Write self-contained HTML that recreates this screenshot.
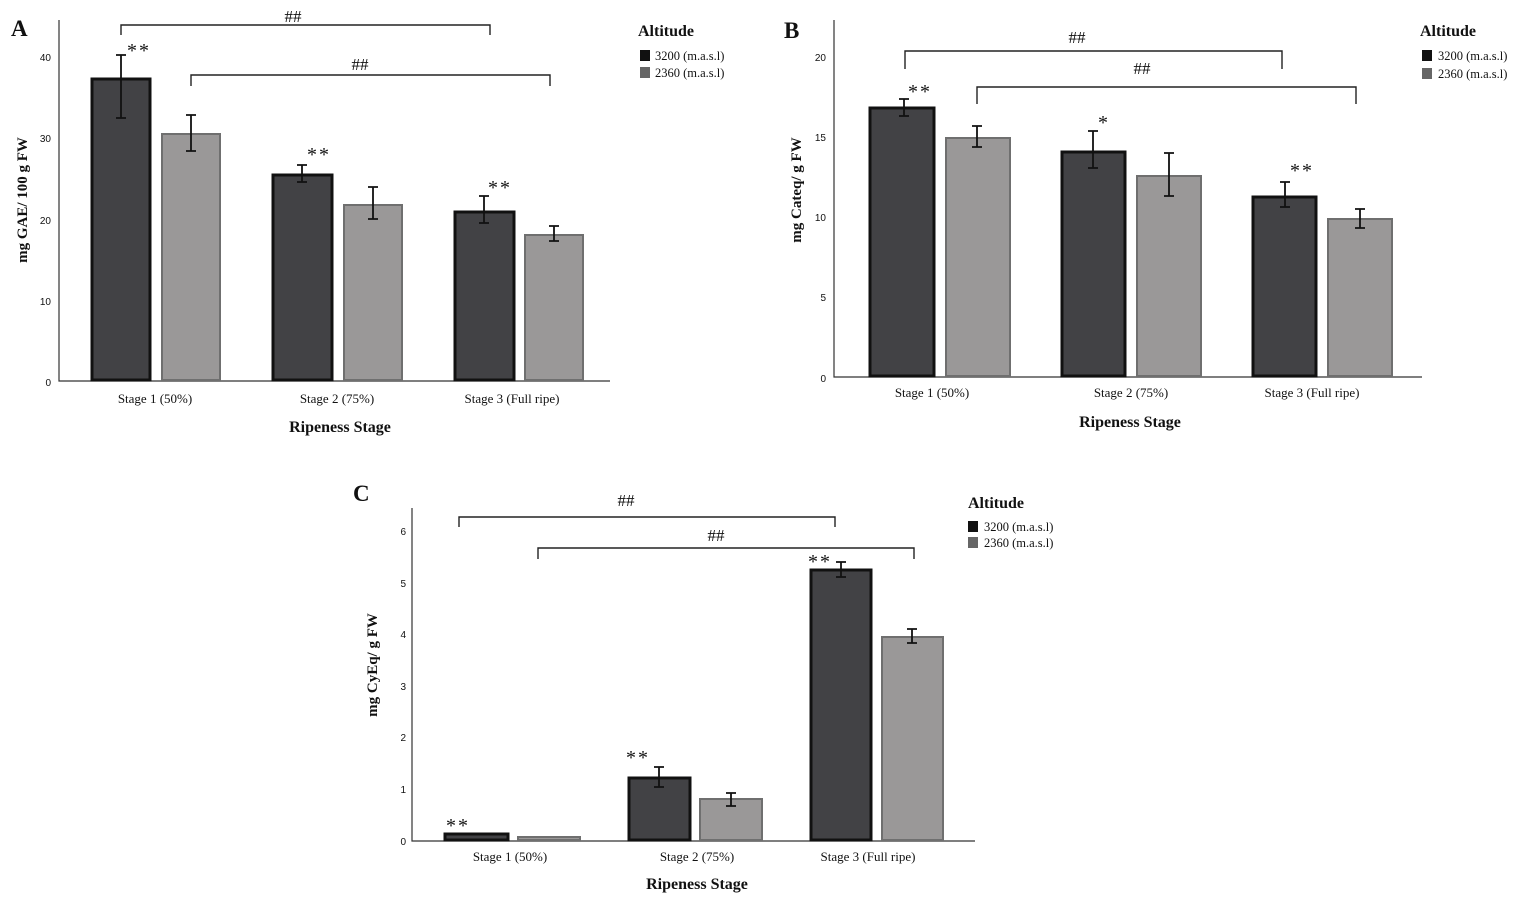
<!DOCTYPE html>
<html><head><meta charset="utf-8"><style>
html,body{margin:0;padding:0;background:#fff;}
svg{display:block;}
text{font-family:"Liberation Serif",serif;fill:#111;}
.t{font-family:"Liberation Sans",sans-serif;font-size:10px;}
.xl{font-size:13px;}
.ti{font-size:16px;font-weight:bold;}
.yt{font-size:15px;font-weight:bold;}
.pl{font-size:23px;font-weight:bold;}
.lg{font-size:12.5px;}
.lh{font-size:16px;font-weight:bold;}
.st{font-size:17px;}
.ss{font-size:20px;letter-spacing:2px;}
.dk{fill:#424245;stroke:#111;stroke-width:3;}
.lt{fill:#9a9898;stroke:#6f6f6f;stroke-width:2;}
.ax{stroke:#333;stroke-width:1.2;fill:none;}
.eb{stroke:#111;stroke-width:1.8;fill:none;}
.br{stroke:#222;stroke-width:1.4;fill:none;}
</style></head><body>
<svg width="1535" height="902" viewBox="0 0 1535 902" xmlns="http://www.w3.org/2000/svg">
<!-- Panel A -->
<text class="pl" x="11" y="36">A</text>
<path class="ax" d="M59 20 V381 H610"/>
<text class="t" x="51" y="61" text-anchor="end">40</text>
<text class="t" x="51" y="142" text-anchor="end">30</text>
<text class="t" x="51" y="224" text-anchor="end">20</text>
<text class="t" x="51" y="305" text-anchor="end">10</text>
<text class="t" x="51" y="386" text-anchor="end">0</text>
<rect class="dk" x="92" y="79" width="58" height="301"/>
<rect class="lt" x="162" y="134" width="58" height="246"/>
<rect class="dk" x="273" y="175" width="59" height="205"/>
<rect class="lt" x="344" y="205" width="58" height="175"/>
<rect class="dk" x="455" y="212" width="59" height="168"/>
<rect class="lt" x="525" y="235" width="58" height="145"/>
<path class="eb" d="M121 55V118M116 55h10M116 118h10 M191 115V151M186 115h10M186 151h10 M302 165V182M297 165h10M297 182h10 M373 187V219M368 187h10M368 219h10 M484 196V223M479 196h10M479 223h10 M554 226V241M549 226h10M549 241h10"/>
<path class="br" d="M121 35V25H490V35 M191 86V75H550V86"/>
<text class="st" x="293" y="22" text-anchor="middle">##</text>
<text class="st" x="360" y="70" text-anchor="middle">##</text>
<text class="ss" x="139" y="57" text-anchor="middle">**</text>
<text class="ss" x="319" y="161" text-anchor="middle">**</text>
<text class="ss" x="500" y="194" text-anchor="middle">**</text>
<text class="xl" x="155" y="403" text-anchor="middle">Stage 1 (50%)</text>
<text class="xl" x="337" y="403" text-anchor="middle">Stage 2 (75%)</text>
<text class="xl" x="512" y="403" text-anchor="middle">Stage 3 (Full ripe)</text>
<text class="ti" x="340" y="432" text-anchor="middle">Ripeness Stage</text>
<text class="yt" transform="translate(27,200) rotate(-90)" text-anchor="middle">mg GAE/ 100 g FW</text>
<text class="lh" x="638" y="36">Altitude</text>
<rect x="640" y="50" width="10" height="11" fill="#111"/>
<rect x="640" y="67" width="10" height="11" fill="#666"/>
<text class="lg" x="655" y="60">3200 (m.a.s.l)</text>
<text class="lg" x="655" y="77">2360 (m.a.s.l)</text>

<!-- Panel B -->
<text class="pl" x="784" y="38">B</text>
<path class="ax" d="M834 20 V377 H1422"/>
<text class="t" x="826" y="61" text-anchor="end">20</text>
<text class="t" x="826" y="141" text-anchor="end">15</text>
<text class="t" x="826" y="221" text-anchor="end">10</text>
<text class="t" x="826" y="301" text-anchor="end">5</text>
<text class="t" x="826" y="382" text-anchor="end">0</text>
<rect class="dk" x="870" y="108" width="64" height="268"/>
<rect class="lt" x="946" y="138" width="64" height="238"/>
<rect class="dk" x="1062" y="152" width="63" height="224"/>
<rect class="lt" x="1137" y="176" width="64" height="200"/>
<rect class="dk" x="1253" y="197" width="63" height="179"/>
<rect class="lt" x="1328" y="219" width="64" height="157"/>
<path class="eb" d="M904 99V116M899 99h10M899 116h10 M977 126V147M972 126h10M972 147h10 M1093 131V168M1088 131h10M1088 168h10 M1169 153V196M1164 153h10M1164 196h10 M1285 182V207M1280 182h10M1280 207h10 M1360 209V228M1355 209h10M1355 228h10"/>
<path class="br" d="M905 69V51H1282V69 M977 104V87H1356V104"/>
<text class="st" x="1077" y="43" text-anchor="middle">##</text>
<text class="st" x="1142" y="74" text-anchor="middle">##</text>
<text class="ss" x="920" y="98" text-anchor="middle">**</text>
<text class="ss" x="1104" y="129" text-anchor="middle">*</text>
<text class="ss" x="1302" y="177" text-anchor="middle">**</text>
<text class="xl" x="932" y="397" text-anchor="middle">Stage 1 (50%)</text>
<text class="xl" x="1131" y="397" text-anchor="middle">Stage 2 (75%)</text>
<text class="xl" x="1312" y="397" text-anchor="middle">Stage 3 (Full ripe)</text>
<text class="ti" x="1130" y="427" text-anchor="middle">Ripeness Stage</text>
<text class="yt" transform="translate(801,190) rotate(-90)" text-anchor="middle">mg Cateq/ g FW</text>
<text class="lh" x="1420" y="36">Altitude</text>
<rect x="1422" y="50" width="10" height="11" fill="#111"/>
<rect x="1422" y="68" width="10" height="11" fill="#666"/>
<text class="lg" x="1438" y="60">3200 (m.a.s.l)</text>
<text class="lg" x="1438" y="78">2360 (m.a.s.l)</text>

<!-- Panel C -->
<text class="pl" x="353" y="501">C</text>
<path class="ax" d="M412 508 V841 H975"/>
<text class="t" x="406" y="535" text-anchor="end">6</text>
<text class="t" x="406" y="587" text-anchor="end">5</text>
<text class="t" x="406" y="638" text-anchor="end">4</text>
<text class="t" x="406" y="690" text-anchor="end">3</text>
<text class="t" x="406" y="741" text-anchor="end">2</text>
<text class="t" x="406" y="793" text-anchor="end">1</text>
<text class="t" x="406" y="845" text-anchor="end">0</text>
<rect class="dk" x="445" y="834" width="63" height="6"/>
<rect class="lt" x="518" y="837" width="62" height="3"/>
<rect class="dk" x="629" y="778" width="61" height="62"/>
<rect class="lt" x="700" y="799" width="62" height="41"/>
<rect class="dk" x="811" y="570" width="60" height="270"/>
<rect class="lt" x="882" y="637" width="61" height="203"/>
<path class="eb" d="M659 767V787M654 767h10M654 787h10 M731 793V806M726 793h10M726 806h10 M841 562V577M836 562h10M836 577h10 M912 629V643M907 629h10M907 643h10"/>
<path class="br" d="M459 527V517H835V527 M538 559V548H914V559"/>
<text class="st" x="626" y="506" text-anchor="middle">##</text>
<text class="st" x="716" y="541" text-anchor="middle">##</text>
<text class="ss" x="458" y="832" text-anchor="middle">**</text>
<text class="ss" x="638" y="764" text-anchor="middle">**</text>
<text class="ss" x="820" y="568" text-anchor="middle">**</text>
<text class="xl" x="510" y="861" text-anchor="middle">Stage 1 (50%)</text>
<text class="xl" x="697" y="861" text-anchor="middle">Stage 2 (75%)</text>
<text class="xl" x="868" y="861" text-anchor="middle">Stage 3 (Full ripe)</text>
<text class="ti" x="697" y="889" text-anchor="middle">Ripeness Stage</text>
<text class="yt" transform="translate(377,665) rotate(-90)" text-anchor="middle">mg CyEq/ g FW</text>
<text class="lh" x="968" y="508">Altitude</text>
<rect x="968" y="521" width="10" height="11" fill="#111"/>
<rect x="968" y="537" width="10" height="11" fill="#666"/>
<text class="lg" x="984" y="531">3200 (m.a.s.l)</text>
<text class="lg" x="984" y="547">2360 (m.a.s.l)</text>
</svg>
</body></html>
